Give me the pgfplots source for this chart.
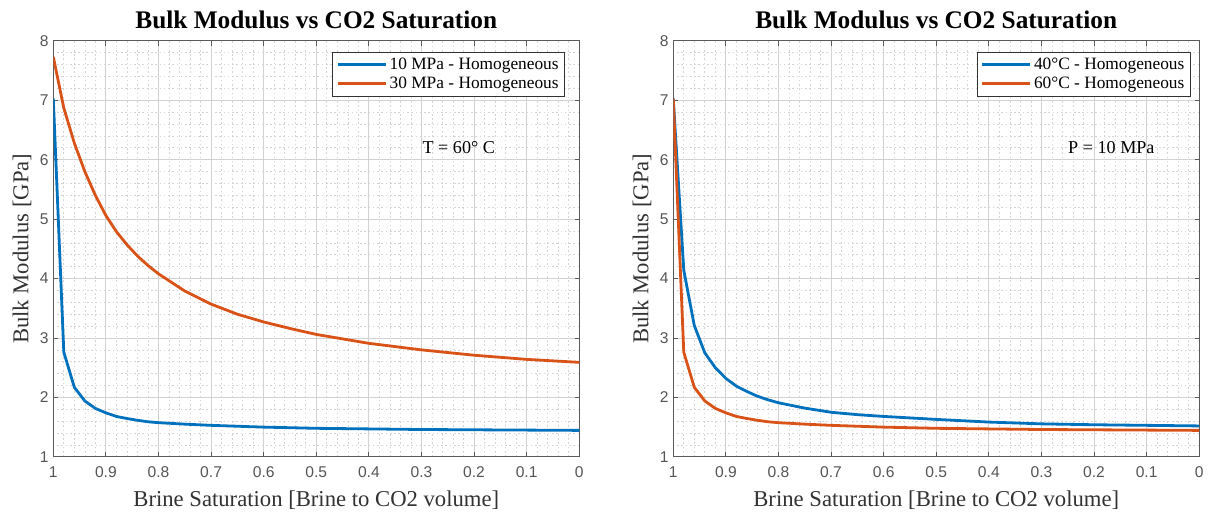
\documentclass[border=0pt]{standalone}
\usepackage{fontspec}
\setmainfont{Liberation Serif}
\newfontfamily\tickfont{Liberation Sans}
\usepackage{pgfplots}
\pgfplotsset{compat=1.18}
\definecolor{mblue}{RGB}{0,114,189}
\definecolor{morange}{RGB}{217,83,25}
\definecolor{tickgray}{RGB}{85,85,85}
\definecolor{axgray}{RGB}{90,90,90}
\definecolor{labgray}{RGB}{50,50,50}
\definecolor{majgrid}{RGB}{210,210,210}
\definecolor{mingrid}{RGB}{212,212,212}
\pgfplotsset{
  mstyle/.style={
    scale only axis, width=394.5pt, height=312pt, anchor=south west,
    xmin=0, xmax=1, x dir=reverse, ymin=1, ymax=8,
    xtick={0,0.1,0.2,0.3,0.4,0.5,0.6,0.7,0.8,0.9,1},
    xticklabels={0,0.1,0.2,0.3,0.4,0.5,0.6,0.7,0.8,0.9,1},
    ytick={1,2,3,4,5,6,7,8},
    yticklabels={1,2,3,4,5,6,7,8},
    minor x tick num=4, minor y tick num=4,
    grid=both,
    major grid style={majgrid, line width=0.6pt},
    minor grid style={mingrid, dash pattern=on 1.2pt off 2pt, line width=0.5pt},
    tick align=inside, major tick length=3.5pt, minor tick length=0pt,
    tick style={axgray, line width=0.6pt},
    axis line style={axgray, line width=0.7pt},
    ticklabel style={font=\tickfont\fontsize{11.7}{14}\selectfont, text=tickgray},
    xticklabel style={yshift=-4pt},
    /pgf/number format/assume math mode=true,
    title style={at={(0.5,1)}, anchor=base, yshift=3pt, font=\bfseries\fontsize{19}{22}\selectfont, text=black},
    xlabel style={at={(axis description cs:0.5,0)}, anchor=base, yshift=-37pt, font=\fontsize{17}{20}\selectfont, text=labgray},
    ylabel style={at={(axis description cs:-0.0595,0.5)}, anchor=center, font=\fontsize{17}{20}\selectfont, text=labgray},
    legend cell align=left,
    legend image code/.code={\draw[#1] (0pt,0pt) -- (36pt,0pt);},
    legend style={draw=black!80, line width=0.6pt, fill=white, inner sep=2.5pt,
      font=\fontsize{13}{16}\selectfont, row sep=0pt, anchor=north east},
    every axis plot/.append style={line width=2.1pt, line join=round},
  }
}
\begin{document}
\begin{tikzpicture}
\path (0,0) rectangle (906pt,384.75pt);
\begin{axis}[mstyle, at={(39.98pt,42.1pt)},
  title={Bulk Modulus vs CO2 Saturation},
  xlabel={Brine Saturation [Brine to CO2 volume]},
  ylabel={Bulk Modulus [GPa]},
  legend style={at={(0.973,0.974)}}]
\addplot[mblue] coordinates {
(1,7.03) (0.98,2.76) (0.96,2.17) (0.94,1.94) (0.92,1.815) (0.90,1.74) (0.88,1.68) (0.86,1.645) (0.84,1.615) (0.82,1.59) (0.80,1.575) (0.75,1.55) (0.70,1.53) (0.60,1.50) (0.50,1.48) (0.40,1.47) (0.30,1.46) (0.20,1.455) (0.10,1.45) (0,1.445)};
\addlegendentry{10 MPa - Homogeneous}
\addplot[morange] coordinates {
(1,7.73) (0.98,6.87) (0.96,6.28) (0.94,5.80) (0.92,5.40) (0.90,5.06) (0.88,4.79) (0.86,4.57) (0.84,4.38) (0.82,4.22) (0.80,4.08) (0.75,3.79) (0.70,3.57) (0.65,3.40) (0.60,3.27) (0.55,3.16) (0.50,3.06) (0.40,2.91) (0.30,2.80) (0.20,2.71) (0.10,2.64) (0,2.59)};
\addlegendentry{30 MPa - Homogeneous}
\node[font=\fontsize{13.6}{16}\selectfont] at (axis cs:0.229,6.21) {T = 60° C};
\end{axis}
\begin{axis}[mstyle, at={(504.98pt,42.1pt)},
  title={Bulk Modulus vs CO2 Saturation},
  xlabel={Brine Saturation [Brine to CO2 volume]},
  ylabel={Bulk Modulus [GPa]},
  legend style={at={(0.984,0.974)}}]
\addplot[mblue] coordinates {
(1,7.03) (0.98,4.14) (0.96,3.21) (0.94,2.75) (0.92,2.50) (0.90,2.32) (0.88,2.19) (0.86,2.10) (0.84,2.02) (0.82,1.96) (0.80,1.91) (0.75,1.82) (0.70,1.75) (0.65,1.71) (0.60,1.68) (0.50,1.63) (0.40,1.585) (0.30,1.555) (0.20,1.54) (0.10,1.53) (0,1.52)};
\addlegendentry{40°C - Homogeneous}
\addplot[morange] coordinates {
(1,7.03) (0.98,2.76) (0.96,2.17) (0.94,1.94) (0.92,1.815) (0.90,1.74) (0.88,1.68) (0.86,1.645) (0.84,1.615) (0.82,1.59) (0.80,1.575) (0.75,1.55) (0.70,1.53) (0.60,1.50) (0.50,1.48) (0.40,1.47) (0.30,1.46) (0.20,1.455) (0.10,1.45) (0,1.445)};
\addlegendentry{60°C - Homogeneous}
\node[font=\fontsize{13.6}{16}\selectfont] at (axis cs:0.167,6.2) {P = 10 MPa};
\end{axis}
\end{tikzpicture}
\end{document}
